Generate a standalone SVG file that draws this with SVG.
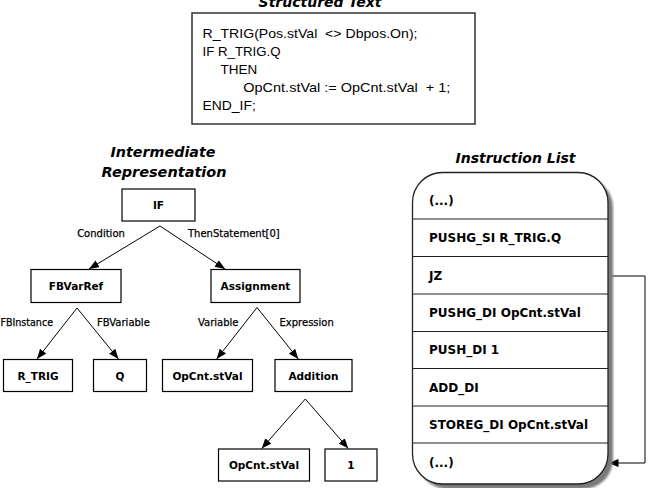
<svg xmlns="http://www.w3.org/2000/svg" width="648" height="488" viewBox="0 0 648 488">
  <style>
    .title { font-family: "DejaVu Sans", Verdana, sans-serif; font-weight: bold; font-style: italic; font-size: 14px; fill: #000; }
    .st { font-family: "Liberation Sans", Arial, sans-serif; font-size: 13px; fill: #000; }
    .box { fill: #fff; stroke: #000; stroke-width: 1.2; }
    .lbl { font-family: "DejaVu Sans", Verdana, sans-serif; font-weight: bold; font-size: 10.5px; text-anchor: middle; fill: #000; }
    .edge { font-family: "DejaVu Sans", Verdana, sans-serif; font-size: 10px; fill: #000; stroke: #000; stroke-width: 0.25; }
    .conn { fill: none; stroke: #000; stroke-width: 1; }
    .il { font-family: "DejaVu Sans", Verdana, sans-serif; font-weight: bold; font-size: 12px; fill: #000; }
    .sep { stroke: #222; stroke-width: 1.2; }
  </style>
  <defs>
    <marker id="arrow" markerUnits="userSpaceOnUse" markerWidth="11" markerHeight="9" refX="10" refY="4" orient="auto">
      <path d="M0,0 L10,4 L0,8 Z" fill="#000"/>
    </marker>
    <filter id="soft" x="-10%" y="-10%" width="120%" height="120%">
      <feGaussianBlur stdDeviation="1"/>
    </filter>
  </defs>

  <rect width="648" height="488" fill="#fff"/>

  <!-- Structured Text panel -->
  <g id="structured-text">
    <text class="title" x="320" y="7" text-anchor="middle">Structured Text</text>
    <rect x="192" y="13" width="283" height="111" fill="#fff" stroke="#333" stroke-width="1.5"/>
    <text class="st" x="202.5" y="38" textLength="215" lengthAdjust="spacingAndGlyphs" xml:space="preserve">R_TRIG(Pos.stVal  &lt;&gt; Dbpos.On);</text>
    <text class="st" x="202.5" y="56" textLength="78" lengthAdjust="spacingAndGlyphs">IF R_TRIG.Q</text>
    <text class="st" x="220.5" y="74" textLength="36.7" lengthAdjust="spacingAndGlyphs">THEN</text>
    <text class="st" x="243.3" y="92" textLength="207" lengthAdjust="spacingAndGlyphs" xml:space="preserve">OpCnt.stVal := OpCnt.stVal  + 1;</text>
    <text class="st" x="202.5" y="110" textLength="53.3" lengthAdjust="spacingAndGlyphs">END_IF;</text>
  </g>

  <!-- Intermediate Representation tree -->
  <text class="title" x="163" y="157" text-anchor="middle" textLength="105" lengthAdjust="spacingAndGlyphs">Intermediate</text>
  <text class="title" x="164" y="177" text-anchor="middle" textLength="125" lengthAdjust="spacingAndGlyphs">Representation</text>

  <g id="connectors">
    <path class="conn" d="M160,226 L89,269" marker-end="url(#arrow)"/>
    <path class="conn" d="M160,226 L225,269" marker-end="url(#arrow)"/>
    <path class="conn" d="M77,308 L37,359" marker-end="url(#arrow)"/>
    <path class="conn" d="M77,308 L118.5,359" marker-end="url(#arrow)"/>
    <path class="conn" d="M257,307.5 L216.7,359" marker-end="url(#arrow)"/>
    <path class="conn" d="M257,307.5 L298.3,359" marker-end="url(#arrow)"/>
    <path class="conn" d="M305.3,399 L261.7,448.5" marker-end="url(#arrow)"/>
    <path class="conn" d="M305.3,399 L348.3,448.5" marker-end="url(#arrow)"/>
    <path class="conn" d="M608,276 H645 V463 H608.5" marker-end="url(#arrow)"/>
    <text class="edge" x="101" y="237" text-anchor="middle">Condition</text>
    <text class="edge" x="188" y="237">ThenStatement[0]</text>
    <text class="edge" x="0.5" y="326" textLength="52.5" lengthAdjust="spacingAndGlyphs">FBInstance</text>
    <text class="edge" x="97" y="326">FBVariable</text>
    <text class="edge" x="238.5" y="326" text-anchor="end">Variable</text>
    <text class="edge" x="279.5" y="326">Expression</text>
  </g>

  <g id="node-if">
    <rect class="box" x="122" y="189" width="73" height="32"/>
    <text class="lbl" x="158.5" y="209">IF</text>
  </g>
  <g id="node-fbvarref">
    <rect class="box" x="31" y="269.5" width="90" height="33"/>
    <text class="lbl" x="76" y="290">FBVarRef</text>
  </g>
  <g id="node-assignment">
    <rect class="box" x="211" y="269.5" width="89" height="33"/>
    <text class="lbl" x="255.5" y="290">Assignment</text>
  </g>
  <g id="node-rtrig">
    <rect class="box" x="3.5" y="359.5" width="69" height="32"/>
    <text class="lbl" x="38" y="379.5">R_TRIG</text>
  </g>
  <g id="node-q">
    <rect class="box" x="93.5" y="359.5" width="53" height="32"/>
    <text class="lbl" x="120" y="379.5">Q</text>
  </g>
  <g id="node-opcnt-var">
    <rect class="box" x="162.5" y="359.5" width="90" height="32"/>
    <text class="lbl" x="207.5" y="379.5">OpCnt.stVal</text>
  </g>
  <g id="node-addition">
    <rect class="box" x="275" y="359.5" width="77" height="32"/>
    <text class="lbl" x="313.5" y="379.5">Addition</text>
  </g>
  <g id="node-opcnt-operand">
    <rect class="box" x="218.5" y="449" width="91" height="32"/>
    <text class="lbl" x="264" y="469">OpCnt.stVal</text>
  </g>
  <g id="node-one">
    <rect class="box" x="325" y="449" width="52" height="32"/>
    <text class="lbl" x="351" y="469">1</text>
  </g>

  <!-- Instruction List panel -->
  <g id="instruction-list">
    <text class="title" x="515.5" y="163" text-anchor="middle" textLength="120" lengthAdjust="spacingAndGlyphs">Instruction List</text>
    <path d="M417.5,207.5 A30,30 0 0 1 447.5,177.5 H583 A30,30 0 0 1 613,207.5 V459 A30,30 0 0 1 583,489 H447.5 A30,30 0 0 1 417.5,459 Z" fill="#7a7a7a" filter="url(#soft)"/>
    <path d="M412.5,202.5 A30,30 0 0 1 442.5,172.5 H578 A30,30 0 0 1 608,202.5 V454 A30,30 0 0 1 578,484 H442.5 A30,30 0 0 1 412.5,454 Z" fill="#fff" stroke="#222" stroke-width="1.3"/>
    <line class="sep" x1="412.5" y1="219" x2="608" y2="219"/>
    <line class="sep" x1="412.5" y1="256.5" x2="608" y2="256.5"/>
    <line class="sep" x1="412.5" y1="294" x2="608" y2="294"/>
    <line class="sep" x1="412.5" y1="331.5" x2="608" y2="331.5"/>
    <line class="sep" x1="412.5" y1="368.5" x2="608" y2="368.5"/>
    <line class="sep" x1="412.5" y1="406" x2="608" y2="406"/>
    <line class="sep" x1="412.5" y1="443" x2="608" y2="443"/>
    <text class="il" x="429" y="205">(...)</text>
    <text class="il" x="429" y="241.5">PUSHG_SI R_TRIG.Q</text>
    <text class="il" x="429" y="279.5">JZ</text>
    <text class="il" x="429" y="316.5">PUSHG_DI OpCnt.stVal</text>
    <text class="il" x="429" y="353.5">PUSH_DI 1</text>
    <text class="il" x="429" y="391.5">ADD_DI</text>
    <text class="il" x="429" y="428.5">STOREG_DI OpCnt.stVal</text>
    <text class="il" x="429" y="466.5">(...)</text>
  </g>
</svg>
